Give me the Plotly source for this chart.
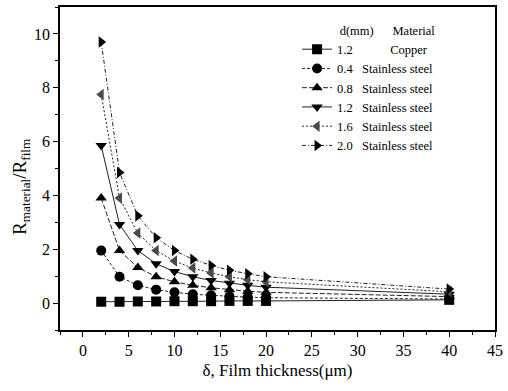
import plotly.graph_objects as go

thickness = [2, 4, 6, 8, 10, 12, 14, 16, 18, 20, 40]
cu_12 = [0.05, 0.05, 0.06, 0.06, 0.07, 0.07, 0.07, 0.08, 0.08, 0.08, 0.12]
ss_04 = [1.95, 0.98, 0.66, 0.5, 0.4, 0.33, 0.29, 0.25, 0.22, 0.2, 0.15]
ss_08 = [3.9, 1.95, 1.32, 0.98, 0.79, 0.66, 0.57, 0.5, 0.44, 0.4, 0.24]
ss_12 = [5.85, 2.92, 1.95, 1.46, 1.17, 0.98, 0.84, 0.74, 0.66, 0.59, 0.33]
ss_16 = [7.75, 3.9, 2.6, 1.95, 1.56, 1.3, 1.12, 0.98, 0.87, 0.79, 0.42]
ss_20 = [9.7, 4.85, 3.24, 2.43, 1.95, 1.63, 1.4, 1.22, 1.09, 0.98, 0.52]

series = [
    ("1.2", "Copper", cu_12, "square", "solid", "black"),
    ("0.4", "Stainless steel", ss_04, "circle", "3px,2px", "black"),
    ("0.8", "Stainless steel", ss_08, "triangle-up", "5px,2px", "black"),
    ("1.2", "Stainless steel", ss_12, "triangle-down", "solid", "black"),
    ("1.6", "Stainless steel", ss_16, "triangle-left", "2px,2px", "#4a4a4a"),
    ("2.0", "Stainless steel", ss_20, "triangle-right", "4px,2px,1px,2px", "black"),
]

NB = "\u00a0"
fig = go.Figure()
for d, mat, vals, sym, dash, col in series:
    pad = NB * (12 if mat == "Copper" else 3)
    fig.add_trace(go.Scatter(
        x=thickness, y=vals, mode="lines+markers",
        name=f"{d}{pad}{mat}",
        line=dict(color="#222222", width=1, dash=dash),
        marker=dict(symbol=sym, size=10, color=col, line=dict(width=0)),
    ))

F = "Liberation Serif"
fig.update_layout(
    width=508, height=391,
    margin=dict(l=60, r=8, t=5, b=61),
    paper_bgcolor="white", plot_bgcolor="white",
    font=dict(family=F, size=16, color="black"),
    showlegend=True,
    legend=dict(
        x=0.545, y=0.965, xanchor="left", yanchor="top",
        bgcolor="rgba(0,0,0,0)", font=dict(size=12.5, family=F),
        title=dict(text=NB * 13 + "d(mm)" + NB * 6 + "Material", font=dict(size=12.5, family=F), side="top"),
        itemwidth=30, tracegroupgap=0,
    ),
    xaxis=dict(
        range=[-2.5, 45], tickmode="linear", tick0=0, dtick=5,
        tickfont=dict(family=F, size=16),
        showline=True, linecolor="black", linewidth=1.5, mirror=True,
        ticks="outside", ticklen=5, tickcolor="black",
        minor=dict(ticks="outside", ticklen=3, dtick=2.5, tick0=0, tickcolor="black"),
        showgrid=False, zeroline=False,
        title=dict(text="δ, Film thickness(μm)", font=dict(size=17, family=F), standoff=6),
    ),
    yaxis=dict(
        range=[-1, 11], tickmode="linear", tick0=0, dtick=2,
        tickfont=dict(family=F, size=16),
        showline=True, linecolor="black", linewidth=1.5, mirror=True,
        ticks="outside", ticklen=5, tickcolor="black",
        minor=dict(ticks="outside", ticklen=3, dtick=1, tick0=0, tickcolor="black"),
        showgrid=False, zeroline=False,
    ),
    annotations=[dict(
        text="R<sub>material</sub>/R<sub>film</sub>", textangle=-90,
        xref="paper", yref="paper", x=-0.088, y=0.445,
        xanchor="center", yanchor="middle", showarrow=False,
        font=dict(size=19, family=F),
    )],
)
fig.write_html("out.html")
